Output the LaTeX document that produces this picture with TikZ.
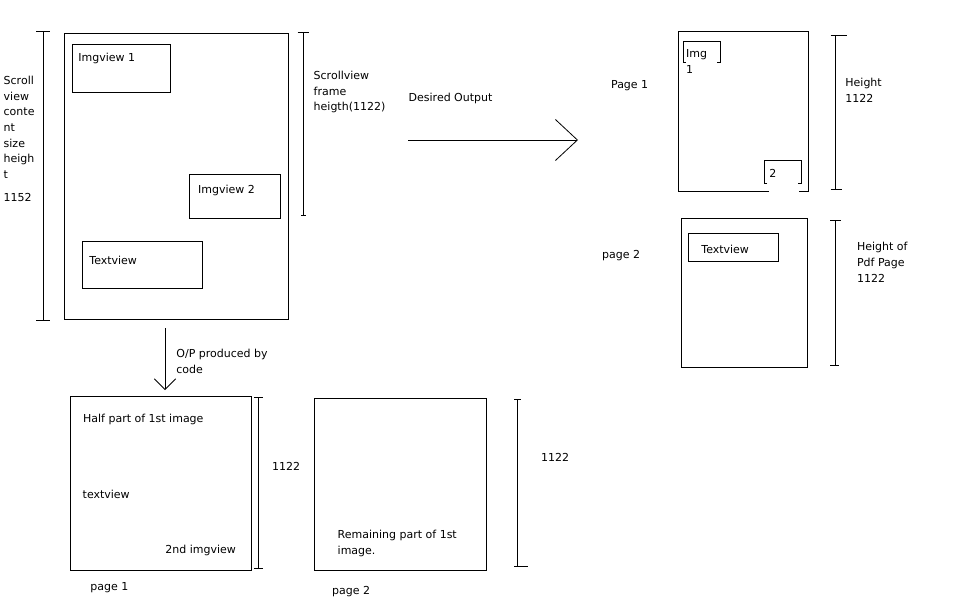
\documentclass[tikz,border=0pt]{standalone}
\usepackage{fontspec}
\setmainfont{DejaVu Sans}
\usetikzlibrary{arrows.meta}
\begin{document}
\begin{tikzpicture}[x=1pt,y=-1pt,
  line width=0.8pt,
  box/.style={draw, anchor=north west, inner sep=0pt, outer sep=0pt},
  ghost/.style={anchor=north west, inner sep=0pt, outer sep=0pt},
  lbl/.style={anchor=base west, inner sep=0pt, font=\fontsize{11}{15.7}\selectfont},
  mlbl/.style={anchor=north west, inner sep=0pt, align=left, font=\fontsize{11}{15.7}\selectfont},
  dimline/.style={line width=0.8pt},
  smallarr/.style={-{Straight Barb[length=10.7pt,width=21.4pt,line width=0.8pt]}},
  bigarr/.style={-{Straight Barb[length=22pt,width=41pt,line width=0.8pt]}}
]
\useasboundingbox (0,0) rectangle (959,611);

% ---------- scroll view ----------
\node[box, minimum width=224pt, minimum height=285.7pt] (main) at (64.3,33.3) {};
\node[box, minimum width=98.4pt, minimum height=47.7pt] (img1) at (72.3,44.3) {};
\node[box, minimum width=91.4pt, minimum height=44.4pt] (img2) at (189.3,174.3) {};
\node[box, minimum width=120.4pt, minimum height=47pt] (tv) at (82.3,241.3) {};
\node[lbl] (img1t) at (78,61.7) {Imgview 1};
\node[lbl] (img2t) at (197.7,193) {Imgview 2};
\node[lbl] (tvt) at (89,264) {Textview};

% content height dimension
\draw[dimline] (36,31) -- (50,31) (43.3,31) -- (43.3,320) (36,320) -- (50,320);
\node[mlbl] (cst) at (3.3,75.6) {Scroll\\view\\conte\\nt\\size\\heigh\\t\\[7pt]1152};

% frame height dimension
\draw[dimline] (297.7,32.3) -- (309,32.3) (303.3,32.3) -- (303.3,215) (301,215) -- (305.7,215);
\node[mlbl] (fht) at (313.3,70.6) {Scrollview\\frame\\heigth(1122)};

% desired output arrow
\node[lbl] (dot) at (408.3,101.7) {Desired Output};
\coordinate (ha) at (408,140);
\coordinate (hb) at (578,140);
\draw[bigarr] (ha) -- (hb);

% ---------- desired output pages ----------
\node[lbl] (rp1lbl) at (610.7,88) {Page 1};
\node[ghost, minimum width=130pt, minimum height=160pt] (rp1) at (678.3,31.7) {};
\draw (769,191.7) -- (rp1.south west) -- (rp1.north west) -- (rp1.north east) -- (rp1.south east) -- (799.3,191.7);
\draw (686,62.3) -- (683.3,62.3) -- (683.3,41.7) -- (720,41.7) -- (720,62.3) -- (717,62.3);
\node[mlbl, font=\fontsize{11}{16}\selectfont] (imgt) at (685.7,49) {Img\\1};
\draw (767,183.3) -- (764.3,183.3) -- (764.3,160.7) -- (801.3,160.7) -- (801.3,183.3) -- (798.3,183.3);
\node[lbl] (twot) at (769,177.3) {2};
\draw[dimline] (830.7,35) -- (846.7,35) (835.7,35) -- (835.7,189.3) (830.7,189.3) -- (841.7,189.3);
\node[mlbl, font=\fontsize{11}{16}\selectfont] (ht1) at (845,77.4) {Height\\1122};

\node[lbl] (rp2lbl) at (601.7,258) {page 2};
\node[box, minimum width=126pt, minimum height=149pt] (rp2) at (681.7,218.3) {};
\node[box, minimum width=90.4pt, minimum height=28.4pt] (rtv) at (688.3,233.3) {};
\node[lbl] (rtvt) at (701,253) {Textview};
\draw[dimline] (830,220) -- (840.7,220) (835,220) -- (835,365.7) (830,365.7) -- (839,365.7);
\node[mlbl, font=\fontsize{11}{15.8}\selectfont] (ht2) at (856.7,241.7) {Height of\\Pdf Page\\1122};

% ---------- produced by code ----------
\node[box, minimum width=181pt, minimum height=173.3pt] (p1) at (70.7,396.7) {};
\coordinate (dx) at (165,0);
\draw[smallarr, shorten <=9pt, shorten >=6.7pt] (main.south -| dx) -- (p1.north -| dx);
\node[mlbl, font=\fontsize{11}{15.7}\selectfont] (opt) at (176,349) {O/P produced by\\code};
\node[lbl] (halft) at (82.7,422.3) {Half part of 1st image};
\node[lbl] (textvt) at (82.3,498) {textview};
\node[lbl] (secondt) at (165,553) {2nd imgview};
\node[lbl] (p1lbl) at (90,590.7) {page 1};
\draw[dimline] (254,397.3) -- (263.3,397.3) (258.3,397.3) -- (258.3,568.3) (254,568.3) -- (263.3,568.3);
\node[lbl] (d5t) at (271.7,470.7) {1122};

\node[box, minimum width=171.7pt, minimum height=171.7pt] (p2) at (314.3,398.3) {};
\node[mlbl, font=\fontsize{11}{16}\selectfont] (remt) at (337.3,529.7) {Remaining part of 1st\\image.};
\node[lbl] (p2lbl) at (331.7,594) {page 2};
\draw[dimline] (514,399) -- (520.7,399) (517.3,399) -- (517.3,566.7) (514,566.7) -- (527.7,566.7);
\node[lbl] (d6t) at (540.7,461.3) {1122};
\end{tikzpicture}
\end{document}
